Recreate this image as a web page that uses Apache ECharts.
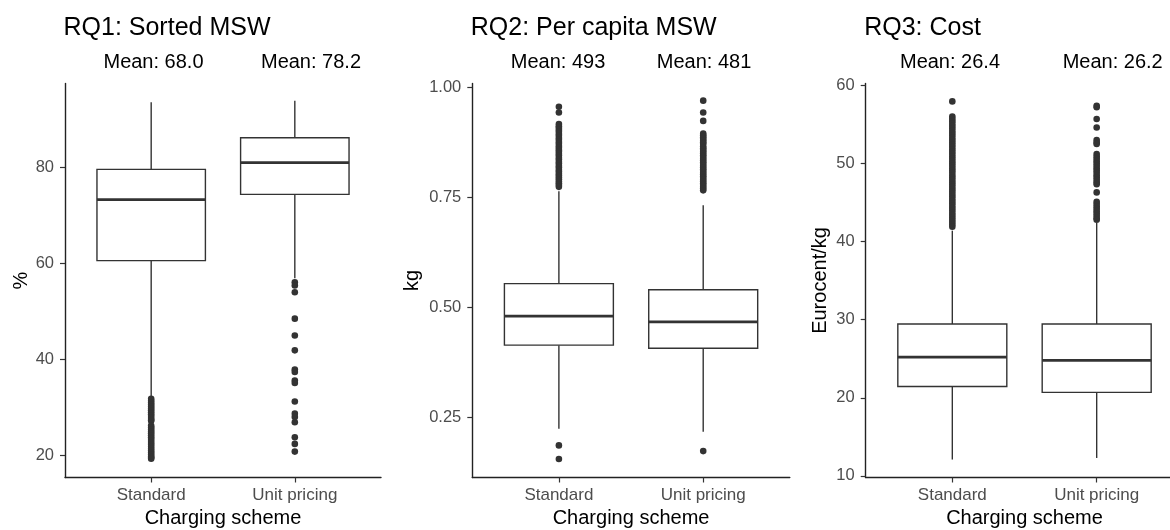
<!DOCTYPE html>
<html>
<head>
<meta charset="utf-8">
<script src="https://cdn.jsdelivr.net/npm/echarts@6/dist/echarts.min.js"></script>
<style>
html,body{margin:0;padding:0;background:#fff;}
#chart{width:1170px;height:530px;}
</style>
</head>
<body>
<div id="chart"></div>
<script>
// ---------- DATA ----------
const categories = ['Standard', 'Unit pricing'];
const panelTitles = ['RQ1: Sorted MSW', 'RQ2: Per capita MSW', 'RQ3: Cost'];
const yAxisNames = ['%', 'kg', 'Eurocent/kg'];
const meanLabels = [
  ['Mean: 68.0', 'Mean: 78.2'],
  ['Mean: 493', 'Mean: 481'],
  ['Mean: 26.4', 'Mean: 26.2']
];
const yTickValues = [
  [20, 40, 60, 80],
  [0.25, 0.50, 0.75, 1.00],
  [10, 20, 30, 40, 50, 60]
];
const yRanges = [[15.4, 97.5], [0.113, 1.009], [9.8, 60.24]];

// box stats per category: [lower whisker, Q1, median, Q3, upper whisker]
const rq1Stats = [[32.3, 60.6, 73.3, 79.6, 93.6], [56.9, 74.4, 81.0, 86.2, 93.9]];
const rq2Stats = [[0.224, 0.414, 0.480, 0.554, 0.764], [0.217, 0.407, 0.467, 0.540, 0.732]];
const rq3Stats = [[12.1, 21.45, 25.2, 29.45, 41.4], [12.3, 20.7, 24.8, 29.45, 42.4]];

// outliers per category
const rq1OutStandard = [31.8, 31.4, 31.0, 30.6, 30.2, 29.8, 29.4, 29.0, 28.6, 28.2, 27.8, 27.4, 27.2,
  26.2, 25.8, 25.4, 25.0, 24.6, 24.2, 23.8, 23.4, 23.0, 22.6, 22.2, 21.8, 21.4, 21.0, 20.6, 20.2, 19.8, 19.5, 19.3];
const rq1OutUnit = [56.1, 55.4, 54.0, 48.5, 45.0, 41.9, 37.9, 37.4, 35.6, 35.1, 31.25, 28.7, 28.0, 26.9, 23.8, 22.4, 20.8];
const rq2OutStandard = [0.956, 0.943, 0.917, 0.912, 0.908, 0.903, 0.899, 0.894, 0.890, 0.885, 0.881, 0.876,
  0.872, 0.867, 0.863, 0.858, 0.854, 0.849, 0.845, 0.840, 0.836, 0.831, 0.827, 0.822, 0.818, 0.813, 0.809,
  0.804, 0.800, 0.795, 0.791, 0.786, 0.782, 0.778, 0.774, 0.186, 0.155];
const rq2OutUnit = [0.970, 0.943, 0.924, 0.895, 0.891, 0.887, 0.883, 0.879, 0.875, 0.872,
  0.866, 0.862, 0.858, 0.854, 0.850, 0.846, 0.842, 0.838, 0.834, 0.830, 0.826, 0.822, 0.818, 0.814, 0.810,
  0.806, 0.802, 0.798, 0.794, 0.790, 0.786, 0.782, 0.778, 0.774, 0.770, 0.766, 0.173];
const rq3OutStandard = [57.95, 56.0, 55.7, 55.4, 55.1, 54.8, 54.5, 54.2, 53.9, 53.6, 53.3, 53.0, 52.7, 52.4,
  52.1, 51.8, 51.5, 51.2, 50.9, 50.6, 50.3, 50.0, 49.7, 49.4, 49.1, 48.8, 48.5, 48.2, 47.9, 47.6, 47.3, 47.0,
  46.7, 46.4, 46.1, 45.8, 45.5, 45.2, 44.9, 44.6, 44.3, 44.0, 43.7, 43.4, 43.1, 42.8, 42.5, 42.2, 41.9];
const rq3OutUnit = [57.4, 57.2, 55.7, 54.6, 53.0, 52.7, 52.5, 51.2, 50.9, 50.6, 50.3, 50.0, 49.7, 49.4, 49.1,
  48.8, 48.5, 48.2, 47.9, 47.6, 47.35, 46.3, 45.1, 44.8, 44.5, 44.2, 43.9, 43.6, 43.3, 43.0, 42.8];

const panelStats = [rq1Stats, rq2Stats, rq3Stats];
const panelOutliers = [[rq1OutStandard, rq1OutUnit], [rq2OutStandard, rq2OutUnit], [rq3OutStandard, rq3OutUnit]];

// ---------- LAYOUT / STYLE ----------
const FONT = '"Liberation Sans", Arial, sans-serif';
const gridLefts = [65, 472.3, 865.7];
const gridWidths = [316, 317.5, 317.6];
const gridTop = 83.5, gridHeight = 394;
const yNameGaps = [33, 50, 35];
const meanX = [[153.5, 311], [558, 704], [950, 1112.7]];
const meanY = 62;
const BOX_WIDTH = 0.755;
const INK = '#333333';

function renderBox(params, api) {
  const x = api.value(0);
  const lo = api.coord([x, api.value(1)]);
  const q1 = api.coord([x, api.value(2)]);
  const md = api.coord([x, api.value(3)]);
  const q3 = api.coord([x, api.value(4)]);
  const hi = api.coord([x, api.value(5)]);
  const hw = api.size([BOX_WIDTH, 0])[0] / 2;
  const st = {stroke: INK, lineWidth: 1.4, fill: null};
  return {
    type: 'group',
    children: [
      {type: 'line', shape: {x1: lo[0], y1: lo[1], x2: q1[0], y2: q1[1]}, style: st},
      {type: 'line', shape: {x1: q3[0], y1: q3[1], x2: hi[0], y2: hi[1]}, style: st},
      {type: 'rect', shape: {x: q1[0] - hw, y: q3[1], width: 2 * hw, height: q1[1] - q3[1]},
        style: {fill: '#ffffff', stroke: INK, lineWidth: 1.4}},
      {type: 'line', shape: {x1: md[0] - hw, y1: md[1], x2: md[0] + hw, y2: md[1]},
        style: {stroke: INK, lineWidth: 2.8}}
    ]
  };
}

const grids = [], xAxes = [], yAxes = [], series = [], titles = [], graphics = [];
for (let p = 0; p < 3; p++) {
  grids.push({left: gridLefts[p], width: gridWidths[p], top: gridTop, height: gridHeight,
    containLabel: false, outerBoundsMode: 'none'});
  xAxes.push({
    type: 'value', gridIndex: p, min: 0.4, max: 2.6,
    name: 'Charging scheme', nameLocation: 'middle', nameGap: 31,
    nameTextStyle: {fontFamily: FONT, fontSize: 20, color: '#000'},
    axisLine: {show: true, lineStyle: {color: '#222', width: 1.4}},
    axisTick: {show: true, length: 5, customValues: [1, 2], lineStyle: {color: '#333', width: 1.2}},
    axisLabel: {show: true, customValues: [1, 2], margin: 9, fontFamily: FONT, fontSize: 17, color: '#4D4D4D',
      formatter: v => categories[Math.round(v) - 1] || ''},
    splitLine: {show: false}
  });
  const dec = p === 1 ? 2 : 0;
  yAxes.push({
    type: 'value', gridIndex: p, min: yRanges[p][0], max: yRanges[p][1],
    name: yAxisNames[p], nameLocation: 'middle', nameGap: yNameGaps[p],
    nameTextStyle: {fontFamily: FONT, fontSize: 20, color: '#000'},
    axisLine: {show: true, lineStyle: {color: '#222', width: 1.4}},
    axisTick: {show: true, length: 5, customValues: yTickValues[p], lineStyle: {color: '#333', width: 1.2}},
    axisLabel: {show: true, customValues: yTickValues[p], margin: 11, fontFamily: FONT, fontSize: 16.5, color: '#4D4D4D',
      formatter: v => v.toFixed(dec)},
    splitLine: {show: false}
  });
  const boxData = panelStats[p].map((s, i) => [i + 1].concat(s));
  series.push({
    type: 'custom', xAxisIndex: p, yAxisIndex: p,
    renderItem: renderBox,
    encode: {x: 0, y: [1, 2, 3, 4, 5]},
    data: boxData, silent: true, z: 2
  });
  const outData = [];
  panelOutliers[p].forEach((arr, i) => arr.forEach(v => outData.push([i + 1, v])));
  series.push({
    type: 'scatter', xAxisIndex: p, yAxisIndex: p,
    data: outData, symbol: 'circle', symbolSize: 6.6,
    itemStyle: {color: INK, opacity: 1}, silent: true, z: 3
  });
  titles.push({
    text: panelTitles[p], left: gridLefts[p] - 1.5, top: 16, padding: 0,
    textStyle: {fontFamily: FONT, fontSize: 25, fontWeight: 'normal', color: '#000'}
  });
  meanLabels[p].forEach((t, i) => {
    graphics.push({
      type: 'text', x: meanX[p][i], y: meanY, silent: true,
      style: {text: t, textAlign: 'center', textVerticalAlign: 'middle', font: '20px ' + FONT, fill: '#000'}
    });
  });
}

const chart = echarts.init(document.getElementById('chart'), null, {renderer: 'canvas'});
chart.setOption({
  backgroundColor: '#ffffff',
  animation: false,
  title: titles,
  grid: grids,
  xAxis: xAxes,
  yAxis: yAxes,
  series: series,
  graphic: graphics
});
</script>
</body>
</html>
